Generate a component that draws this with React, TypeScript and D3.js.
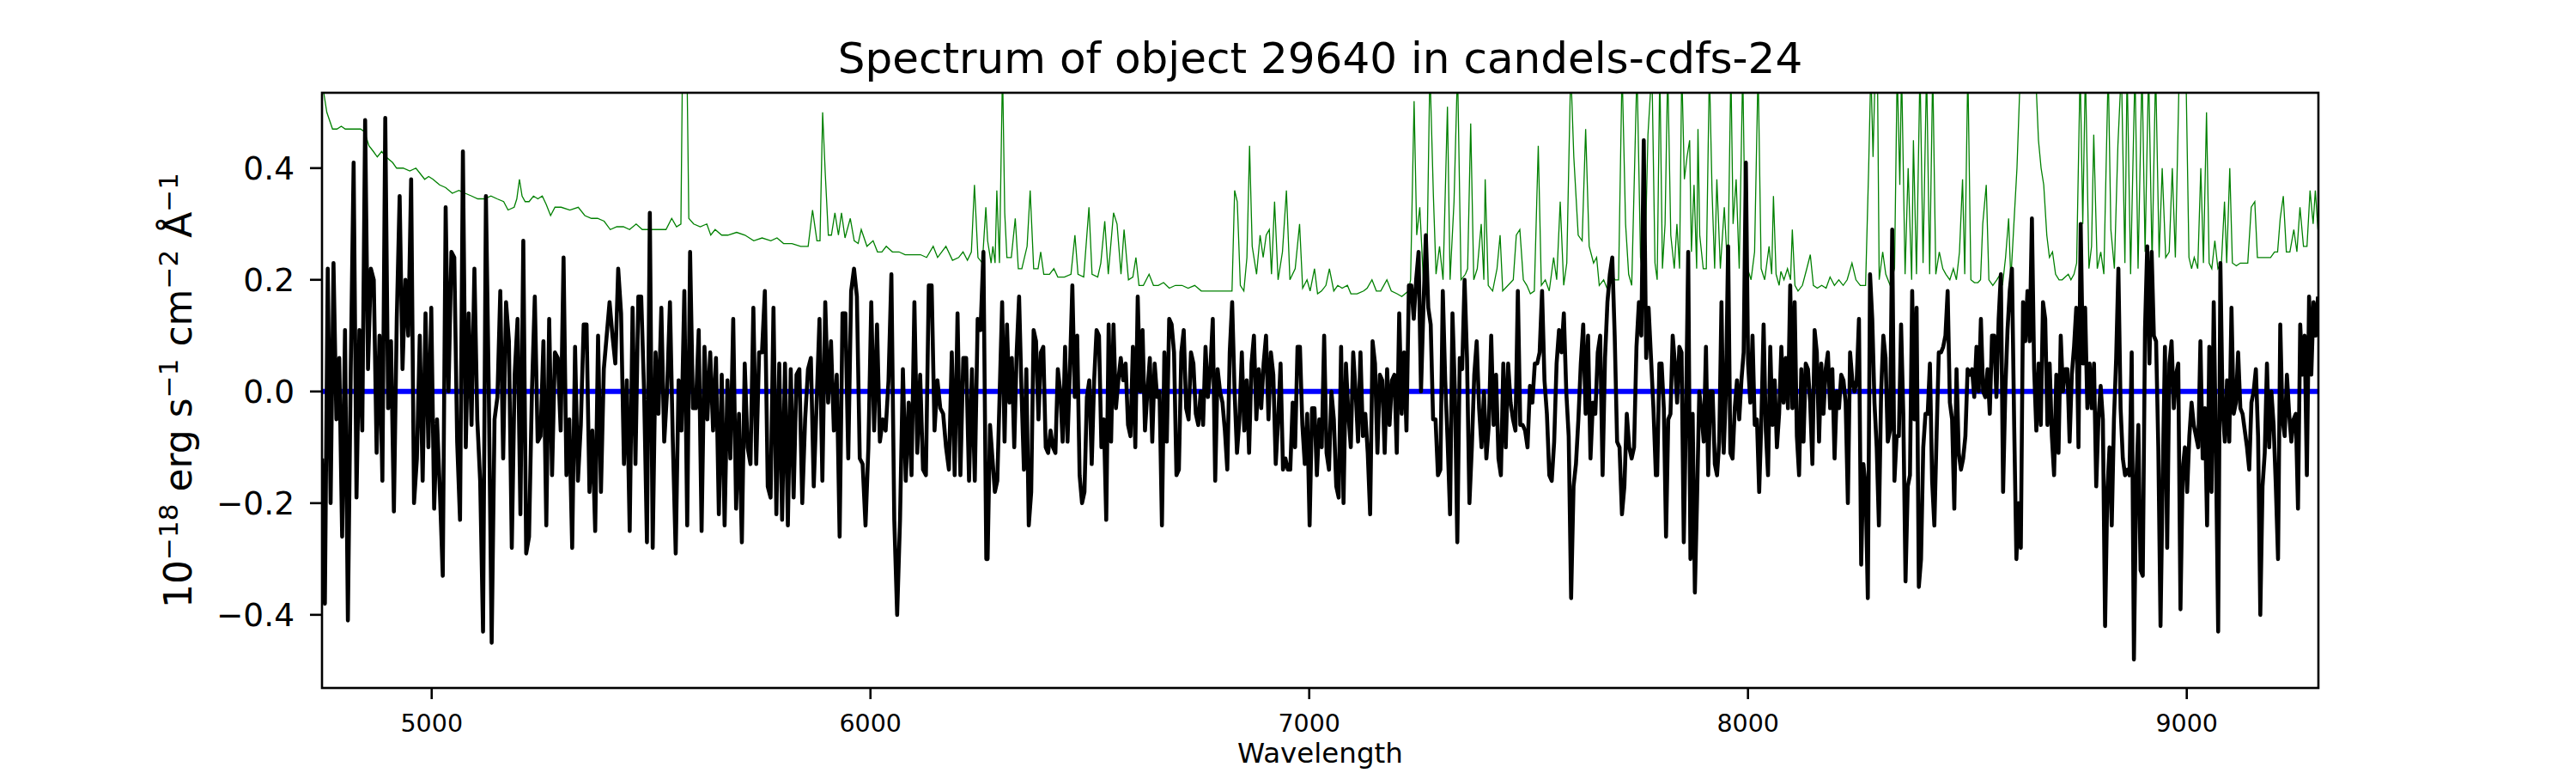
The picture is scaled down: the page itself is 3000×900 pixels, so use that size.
import React from "react"
import * as d3 from "d3"

const TITLE = "Spectrum of object 29640 in candels-cdfs-24"
const X_LABEL = "Wavelength"
const X_TICKS = [5000, 6000, 7000, 8000, 9000]
const Y_TICKS = [-0.4, -0.2, 0.0, 0.2, 0.4]
const X_DOMAIN: [number, number] = [4750, 9300]
const Y_DOMAIN: [number, number] = [-0.531, 0.535]

// observed flux, read in three stretches; samples are evenly spaced inside each stretch
const FLUX_A_RANGE = [4750, 6264]
const FLUX_A = [
  -0.12, -0.38, 0.22, -0.2, 0.23, -0.05, 0.06, -0.26, 0.11, -0.41, 0.04, 0.41, -0.19, 0.11, -0.07, 0.486,
  0.04, 0.22, 0.2, -0.11, 0.1, -0.16, 0.49, -0.03, 0.09, -0.215, 0.13, 0.35, 0.04, 0.2, 0.1, 0.38, -0.2,
  -0.12, 0.1, -0.16, 0.14, -0.1, 0.15, -0.21, -0.05, -0.18, -0.33, 0.33, 0.0, 0.25, 0.24, -0.09, -0.23,
  0.43, -0.1, 0.14, -0.06, 0.22, -0.05, -0.16, -0.43, 0.35, 0.0, -0.45, -0.05, -0.01, 0.18, -0.12, 0.16,
  0.09, -0.28, 0.03, 0.13, -0.22, 0.27, -0.29, -0.26, 0.0, 0.17, -0.09, -0.08, 0.09, -0.24, 0.13, -0.15,
  0.07, 0.06, -0.07, 0.24, -0.15, -0.05, -0.28, 0.08, -0.16, -0.06, 0.12, 0.12, -0.18, -0.07, -0.25, 0.1,
  -0.18, 0.04, 0.1, 0.16, 0.1, 0.05, 0.22, 0.14, -0.13, 0.02, -0.25, 0.15, -0.13, 0.17, 0.17, 0.0, -0.27,
  0.32, -0.28, 0.07, -0.04, 0.15, -0.09, 0.0, 0.16, -0.09, -0.29, 0.02, -0.07, 0.18, -0.24, 0.25, -0.03,
  -0.03, 0.11, -0.25, 0.08, -0.05, 0.07, -0.07, 0.06, -0.22, 0.03, -0.24, 0.02, -0.12, 0.13, -0.21, -0.04,
  -0.27, 0.05, -0.1, -0.13, 0.15, -0.13, 0.07, 0.07, 0.18, -0.17, -0.19, 0.15, -0.22, 0.05, -0.23, 0.05,
  -0.24, 0.04, -0.19, 0.03, 0.04, -0.2, -0.05, 0.04, 0.06, -0.17, -0.02, 0.13, -0.16, 0.16, -0.02, 0.09,
  -0.07, 0.03, -0.26, 0.14, 0.14, -0.12, 0.18, 0.22, 0.17, -0.12, -0.13, -0.24, -0.1, 0.16, -0.07, 0.12,
  -0.09, -0.05, -0.07, 0.02, 0.21, -0.23, -0.4, -0.23, 0.04, -0.16, -0.02, -0.15, 0.16, -0.11, 0.03, -0.14,
  -0.15, 0.19, 0.19, -0.07, 0.02, -0.03, -0.04, -0.1, -0.14, 0.07, -0.15, 0.14, -0.15, 0.06, 0.06, -0.16,
  0.04, -0.16, 0.13, 0.11, 0.25, -0.3,
]

const FLUX_B_RANGE = [6267, 7790]
const FLUX_B = [
  -0.3, -0.06, -0.12, -0.18, -0.16, 0.0, 0.16, -0.09, 0.12, -0.02, 0.06, -0.1, 0.07, 0.17, 0.0, -0.14,
  0.04, -0.24, -0.18, 0.11, 0.09, -0.05, 0.07, 0.08, -0.1, -0.11, -0.07, -0.1, -0.11, 0.04, 0.0, -0.09,
  0.08, -0.09, 0.04, 0.19, -0.01, 0.1, -0.15, -0.2, -0.18, -0.01, 0.02, -0.13, 0.02, 0.11, 0.1, -0.1,
  -0.05, -0.23, 0.12, -0.09, 0.12, -0.03, 0.02, 0.06, 0.02, 0.05, -0.06, -0.08, 0.08, -0.1, 0.17, 0.0,
  0.11, -0.07, 0.0, 0.06, -0.09, 0.05, -0.01, 0.0, -0.24, 0.07, -0.09, 0.13, 0.12, 0.07, -0.15, -0.14,
  0.07, 0.11, -0.03, -0.05, 0.07, 0.05, -0.04, -0.06, 0.0, -0.06, 0.08, -0.01, 0.04, 0.13, -0.16, 0.04,
  0.0, -0.02, -0.07, -0.14, 0.07, 0.16, 0.0, -0.11, -0.05, 0.07, -0.07, 0.02, -0.11, 0.05, 0.1, -0.05,
  0.04, -0.03, 0.05, 0.1, -0.05, 0.07, 0.03, -0.13, -0.05, 0.05, -0.14, -0.12, -0.14, -0.14, -0.02, -0.1,
  0.08, 0.08, -0.06, -0.13, -0.04, -0.24, -0.03, -0.03, -0.15, -0.05, -0.1, 0.1, -0.11, -0.14, 0.0, -0.05,
  -0.17, -0.19, 0.08, -0.2, 0.05, -0.04, -0.1, 0.07, 0.0, -0.09, 0.07, -0.08, -0.04, -0.11, -0.22, 0.09,
  0.05, -0.11, 0.03, 0.02, -0.11, 0.04, -0.06, 0.02, 0.03, -0.11, 0.14, -0.04, 0.07, -0.07, 0.19, 0.19,
  0.13, 0.2, 0.25, 0.0, 0.15, 0.28, 0.15, 0.12, -0.05, -0.05, -0.15, -0.14, 0.18, 0.02, -0.09, -0.22,
  0.14, 0.0, -0.27, 0.06, 0.04, 0.2, 0.06, -0.2, -0.1, 0.03, 0.09, -0.03, -0.1, 0.0, -0.12, -0.06, 0.1,
  -0.06, 0.03, -0.12, -0.15, 0.05, -0.1, 0.05, -0.02, -0.05, -0.07, 0.18, -0.06, -0.06, -0.07, -0.1, 0.01,
  -0.02, 0.05, 0.05, 0.07, 0.18, 0.02, -0.04, -0.15, -0.16, -0.09, 0.05, 0.11, 0.07, 0.14, 0.0, -0.08,
  -0.37, -0.17, -0.13, -0.05, 0.05, 0.12, -0.04, 0.1, -0.12, -0.02, -0.04, 0.07, 0.1, -0.15, 0.06, 0.16,
  0.21, 0.24, 0.1, -0.09, -0.1, -0.22, -0.17, -0.04, -0.1, -0.12, -0.1, 0.08, 0.16, 0.1, 0.45, 0.06, 0.15,
  0.06, -0.03, -0.15,
]

const FLUX_C_RANGE = [7793, 9299]
const FLUX_C = [
  -0.15, 0.05, 0.05, -0.03, -0.26, -0.05, -0.04, 0.1, 0.05, -0.02, 0.08, 0.07, -0.27, -0.04, 0.25, -0.3,
  -0.04, -0.36, -0.19, 0.0, -0.04, -0.09, 0.08, -0.15, 0.0, 0.0, -0.13, -0.15, -0.09, 0.16, -0.11, 0.0,
  0.26, -0.11, -0.12, -0.03, 0.02, -0.05, 0.02, 0.07, 0.41, 0.05, -0.02, 0.1, -0.06, -0.05, -0.18, -0.05,
  0.12, -0.07, -0.15, 0.08, -0.06, 0.02, -0.1, -0.04, 0.08, -0.02, 0.06, -0.03, 0.19, -0.03, 0.16, -0.08,
  -0.15, 0.04, -0.09, 0.05, 0.04, -0.02, -0.13, 0.11, 0.07, -0.09, 0.05, -0.04, 0.04, 0.07, -0.03, 0.04,
  -0.12, 0.0, -0.03, 0.03, 0.02, -0.02, -0.2, 0.07, 0.02, 0.0, 0.02, 0.13, -0.31, -0.13, -0.17, -0.37,
  0.21, 0.13, -0.02, -0.1, -0.24, 0.0, 0.1, 0.06, -0.09, -0.07, 0.29, -0.16, -0.08, -0.08, 0.12, -0.04,
  -0.34, -0.17, -0.15, 0.18, -0.05, 0.15, -0.35, -0.3, -0.1, -0.04, -0.04, 0.05, -0.16, -0.24, -0.08, 0.07,
  0.07, 0.08, 0.1, 0.18, -0.02, -0.05, -0.21, 0.04, -0.11, -0.14, -0.12, -0.08, 0.04, 0.03, 0.04, -0.01,
  0.08, 0.0, 0.13, 0.0, -0.01, 0.04, -0.04, 0.1, 0.1, -0.01, 0.13, 0.21, -0.18, 0.0, 0.11, 0.18, 0.22,
  -0.06, -0.3, -0.2, -0.28, 0.16, 0.09, 0.18, 0.09, 0.31, 0.04, -0.07, 0.05, -0.06, 0.16, 0.13, -0.06,
  0.05, -0.08, -0.15, 0.03, -0.11, 0.1, 0.0, 0.04, 0.04, -0.09, 0.03, 0.08, 0.15, -0.1, 0.3, 0.05, 0.15,
  -0.03, 0.05, -0.03, 0.05, -0.17, -0.05, 0.01, -0.05, -0.42, -0.18, -0.1, -0.24, -0.05, 0.06, 0.22,
  -0.03, -0.12, -0.15, -0.14, -0.15, 0.07, -0.48, -0.17, -0.06, -0.32, -0.33, 0.11, 0.26, 0.05, 0.25, 0.1,
  0.09, -0.1, -0.42, -0.15, 0.08, -0.28, 0.05, 0.09, -0.03, 0.03, 0.05, -0.39, -0.14, -0.1, -0.18, -0.08,
  -0.02, -0.06, -0.08, -0.1, 0.09, -0.12, -0.03, -0.24, 0.08, -0.18, 0.16, -0.11, -0.43, 0.23, -0.03,
  -0.09, 0.02, -0.09, 0.15, -0.04, -0.02, 0.07, -0.03, -0.04, -0.07, -0.1, -0.14, -0.02, 0.0, 0.04, -0.08,
  -0.4, -0.17, -0.11, 0.05, -0.1, 0.0, -0.06, -0.17, -0.3, 0.12, -0.05, -0.08, 0.03, -0.04, -0.09, -0.05,
  -0.04, -0.21, 0.12, 0.03, 0.1, -0.15, 0.17, 0.03, 0.16, 0.1, 0.17,
]

// noise spectrum as [wavelength, value]; sky-line peaks run off the top of the axes
const NOISE_A = [
  [4750, 0.56], [4755, 0.53], [4761, 0.5], [4774, 0.47], [4784, 0.47], [4794, 0.475], [4803, 0.47],
  [4818, 0.47], [4838, 0.47], [4847, 0.465], [4857, 0.44], [4867, 0.43], [4876, 0.42], [4886, 0.43],
  [4896, 0.42], [4911, 0.41], [4920, 0.4], [4935, 0.4], [4950, 0.395], [4964, 0.4], [4974, 0.39],
  [4984, 0.38], [4993, 0.385], [5003, 0.38], [5018, 0.37], [5032, 0.365], [5047, 0.355], [5062, 0.36],
  [5076, 0.355], [5091, 0.35], [5105, 0.345], [5120, 0.345], [5135, 0.35], [5149, 0.345], [5164, 0.34],
  [5174, 0.325], [5188, 0.33], [5194, 0.345], [5200, 0.38], [5206, 0.35], [5213, 0.34], [5222, 0.34],
  [5232, 0.35], [5242, 0.345], [5252, 0.35], [5261, 0.335], [5271, 0.315], [5281, 0.33], [5295, 0.33],
  [5315, 0.325], [5334, 0.33], [5349, 0.315], [5364, 0.31], [5378, 0.31], [5393, 0.305], [5407, 0.29],
  [5422, 0.295], [5437, 0.295], [5451, 0.29], [5466, 0.3], [5480, 0.29], [5500, 0.29], [5519, 0.29],
  [5534, 0.29], [5547, 0.31], [5558, 0.295], [5568, 0.3], [5573, 0.7], [5580, 0.7], [5586, 0.31],
  [5597, 0.3], [5612, 0.295], [5627, 0.3], [5636, 0.28], [5646, 0.29], [5661, 0.28], [5675, 0.28],
  [5695, 0.285], [5714, 0.28], [5734, 0.27], [5753, 0.275], [5773, 0.27], [5787, 0.275], [5802, 0.265],
  [5821, 0.265], [5841, 0.26], [5858, 0.26], [5868, 0.325], [5878, 0.27], [5885, 0.27], [5891, 0.5],
  [5897, 0.39], [5904, 0.28], [5911, 0.28], [5919, 0.32], [5927, 0.28], [5934, 0.32], [5942, 0.275],
  [5954, 0.31], [5963, 0.27], [5972, 0.265], [5979, 0.29], [5992, 0.26], [6006, 0.27], [6016, 0.25],
  [6026, 0.25], [6036, 0.26], [6050, 0.25], [6065, 0.25], [6079, 0.245], [6094, 0.245], [6114, 0.245],
  [6128, 0.24], [6143, 0.26], [6153, 0.24], [6172, 0.26], [6187, 0.235], [6201, 0.24], [6211, 0.25],
  [6221, 0.235], [6230, 0.25], [6237, 0.37], [6245, 0.24], [6255, 0.23], [6263, 0.33],
]

const NOISE_B = [
  [6267, 0.27], [6275, 0.23], [6279, 0.26], [6284, 0.23], [6288, 0.36], [6294, 0.23], [6301, 0.58],
  [6306, 0.32], [6311, 0.24], [6321, 0.24], [6330, 0.31], [6337, 0.22], [6345, 0.22], [6357, 0.26],
  [6364, 0.36], [6372, 0.22], [6382, 0.22], [6388, 0.25], [6395, 0.21], [6408, 0.21], [6418, 0.22],
  [6427, 0.205], [6442, 0.205], [6457, 0.21], [6466, 0.28], [6473, 0.21], [6486, 0.205], [6498, 0.33],
  [6505, 0.21], [6518, 0.205], [6525, 0.23], [6534, 0.305], [6542, 0.21], [6554, 0.32], [6562, 0.3],
  [6571, 0.21], [6578, 0.29], [6588, 0.2], [6598, 0.205], [6605, 0.24], [6612, 0.19], [6622, 0.19],
  [6635, 0.21], [6645, 0.19], [6656, 0.19], [6668, 0.195], [6681, 0.185], [6695, 0.19], [6710, 0.19],
  [6724, 0.185], [6739, 0.19], [6754, 0.18], [6773, 0.18], [6793, 0.18], [6812, 0.18], [6824, 0.18],
  [6830, 0.36], [6836, 0.34], [6843, 0.19], [6851, 0.18], [6858, 0.24], [6864, 0.44], [6870, 0.26],
  [6880, 0.21], [6888, 0.28], [6895, 0.24], [6902, 0.28], [6909, 0.29], [6914, 0.21], [6921, 0.34],
  [6929, 0.2], [6939, 0.25], [6948, 0.36], [6956, 0.2], [6968, 0.22], [6978, 0.3], [6985, 0.185],
  [6995, 0.2], [7002, 0.18], [7012, 0.22], [7019, 0.175], [7028, 0.18], [7038, 0.19], [7046, 0.22],
  [7056, 0.18], [7065, 0.19], [7075, 0.185], [7087, 0.19], [7095, 0.175], [7109, 0.175], [7124, 0.18],
  [7132, 0.185], [7143, 0.2], [7153, 0.18], [7163, 0.18], [7177, 0.2], [7187, 0.18], [7200, 0.175],
  [7211, 0.17], [7226, 0.18], [7231, 0.2], [7239, 0.52], [7245, 0.28], [7252, 0.33], [7260, 0.2],
  [7268, 0.22], [7275, 0.58], [7283, 0.35], [7289, 0.21], [7297, 0.26], [7305, 0.2], [7315, 0.51],
  [7321, 0.2], [7330, 0.34], [7338, 0.58], [7346, 0.2], [7356, 0.21], [7361, 0.22], [7368, 0.48],
  [7375, 0.2], [7383, 0.22], [7392, 0.3], [7398, 0.2], [7401, 0.38], [7408, 0.19], [7418, 0.18],
  [7428, 0.22], [7435, 0.28], [7441, 0.18], [7453, 0.19], [7465, 0.2], [7472, 0.28], [7480, 0.29],
  [7488, 0.2], [7496, 0.19], [7504, 0.175], [7513, 0.18], [7522, 0.44], [7529, 0.19], [7538, 0.2],
  [7547, 0.18], [7557, 0.24], [7564, 0.2], [7572, 0.34], [7580, 0.19], [7587, 0.23], [7596, 0.58],
  [7603, 0.42], [7613, 0.28], [7622, 0.27], [7630, 0.47], [7638, 0.26], [7648, 0.23], [7655, 0.24],
  [7661, 0.19], [7671, 0.2], [7681, 0.18], [7689, 0.21], [7697, 0.2], [7705, 0.2], [7713, 0.58],
  [7721, 0.3], [7728, 0.21], [7735, 0.19], [7747, 0.58], [7755, 0.24], [7764, 0.19], [7772, 0.46],
  [7781, 0.58], [7788, 0.23],
]

const NOISE_C = [
  [7793, 0.2], [7799, 0.58], [7805, 0.22], [7811, 0.3], [7817, 0.58], [7824, 0.28], [7832, 0.22],
  [7838, 0.3], [7844, 0.22], [7849, 0.58], [7855, 0.38], [7861, 0.42], [7867, 0.45], [7871, 0.25],
  [7877, 0.37], [7883, 0.22], [7886, 0.47], [7890, 0.28], [7898, 0.22], [7905, 0.22], [7912, 0.58],
  [7918, 0.36], [7924, 0.22], [7929, 0.38], [7937, 0.22], [7946, 0.33], [7954, 0.21], [7961, 0.58],
  [7966, 0.3], [7973, 0.38], [7980, 0.22], [7988, 0.58], [7994, 0.25], [7999, 0.22], [8007, 0.2],
  [8015, 0.25], [8023, 0.58], [8030, 0.22], [8038, 0.2], [8048, 0.26], [8054, 0.21], [8058, 0.35],
  [8064, 0.21], [8071, 0.19], [8075, 0.215], [8082, 0.2], [8090, 0.22], [8097, 0.2], [8101, 0.29],
  [8107, 0.19], [8114, 0.18], [8124, 0.19], [8134, 0.22], [8142, 0.245], [8149, 0.19], [8158, 0.185],
  [8168, 0.19], [8178, 0.185], [8187, 0.205], [8197, 0.19], [8207, 0.2], [8217, 0.19], [8226, 0.2],
  [8237, 0.23], [8246, 0.2], [8256, 0.19], [8268, 0.19], [8275, 0.4], [8280, 0.58], [8285, 0.42],
  [8290, 0.58], [8295, 0.58], [8299, 0.2], [8307, 0.25], [8314, 0.21], [8324, 0.19], [8334, 0.22],
  [8340, 0.58], [8346, 0.37], [8350, 0.58], [8358, 0.21], [8365, 0.4], [8373, 0.2], [8377, 0.45],
  [8384, 0.21], [8392, 0.58], [8399, 0.23], [8407, 0.58], [8414, 0.21], [8421, 0.58], [8428, 0.21],
  [8436, 0.25], [8444, 0.22], [8451, 0.21], [8460, 0.2], [8468, 0.22], [8475, 0.2], [8482, 0.25],
  [8489, 0.38], [8494, 0.21], [8501, 0.58], [8508, 0.2], [8516, 0.195], [8524, 0.195], [8530, 0.2],
  [8535, 0.3], [8543, 0.37], [8549, 0.2], [8558, 0.19], [8567, 0.2], [8575, 0.21], [8580, 0.19],
  [8587, 0.24], [8594, 0.31], [8599, 0.2], [8606, 0.3], [8613, 0.4], [8621, 0.58], [8629, 0.58],
  [8635, 0.58], [8642, 0.58], [8648, 0.58], [8655, 0.58], [8662, 0.45], [8668, 0.4], [8674, 0.37],
  [8681, 0.28], [8687, 0.24], [8694, 0.25], [8701, 0.21], [8709, 0.2], [8716, 0.2], [8723, 0.205],
  [8730, 0.21], [8736, 0.2], [8743, 0.21], [8749, 0.23], [8757, 0.58], [8763, 0.3], [8769, 0.58],
  [8777, 0.22], [8783, 0.26], [8788, 0.46], [8796, 0.22], [8804, 0.25], [8811, 0.21], [8821, 0.58],
  [8827, 0.29], [8835, 0.22], [8843, 0.44], [8851, 0.58], [8859, 0.23], [8864, 0.58], [8872, 0.21],
  [8882, 0.58], [8889, 0.22], [8898, 0.58], [8905, 0.25], [8913, 0.58], [8921, 0.23], [8929, 0.58],
  [8937, 0.24], [8944, 0.4], [8952, 0.24], [8960, 0.25], [8967, 0.4], [8974, 0.24], [8983, 0.58],
  [8991, 0.58], [8998, 0.58], [9005, 0.24], [9011, 0.22], [9017, 0.24], [9025, 0.22], [9032, 0.4],
  [9038, 0.23], [9045, 0.5], [9051, 0.23], [9057, 0.22], [9064, 0.27], [9071, 0.22], [9079, 0.23],
  [9086, 0.34], [9091, 0.23], [9098, 0.4], [9104, 0.23], [9113, 0.225], [9122, 0.23], [9132, 0.23],
  [9139, 0.23], [9147, 0.33], [9155, 0.34], [9161, 0.24], [9171, 0.24], [9181, 0.24], [9191, 0.24],
  [9200, 0.25], [9207, 0.25], [9213, 0.31], [9220, 0.35], [9227, 0.25], [9235, 0.25], [9244, 0.29],
  [9251, 0.25], [9258, 0.33], [9266, 0.26], [9274, 0.26], [9281, 0.36], [9288, 0.3], [9293, 0.36],
  [9299, 0.29],
]

// model continuum (flat at zero)
const MODEL = [
  [4750, 0],
  [9300, 0],
]

const spread = (range: number[], values: number[]) =>
  values.map((v, i) => [range[0] + ((range[1] - range[0]) * i) / (values.length - 1), v])

const App = () => {
  const width = 3000
  const height = 900
  const margin = { top: 108, right: 300, bottom: 99, left: 375 }
  const innerW = width - margin.left - margin.right
  const innerH = height - margin.top - margin.bottom
  const font = "'DejaVu Sans', sans-serif"

  const x = d3.scaleLinear().domain(X_DOMAIN).range([0, innerW])
  const y = d3.scaleLinear().domain(Y_DOMAIN).range([innerH, 0])

  const line = d3
    .line<number[]>()
    .x((d) => x(d[0]))
    .y((d) => y(d[1]))

  const flux = [
    ...spread(FLUX_A_RANGE, FLUX_A),
    ...spread(FLUX_B_RANGE, FLUX_B),
    ...spread(FLUX_C_RANGE, FLUX_C),
  ]
  const noise = [...NOISE_A, ...NOISE_B, ...NOISE_C]

  const fmt = (v: number) => d3.format(".1f")(v).replace("-", "\u2212")
  const sup = { fontSize: 31 }

  return (
    <svg
      width={width}
      height={height}
      style={{ position: "absolute", left: 0, top: 0, background: "white" }}
      fontFamily={font}
    >
      <defs>
        <clipPath id="plot-area">
          <rect x={0} y={0} width={innerW} height={innerH} />
        </clipPath>
      </defs>

      <text x={margin.left + innerW / 2} y={85} textAnchor="middle" fontSize={50}>
        {TITLE}
      </text>

      <g transform={`translate(${margin.left},${margin.top})`}>
        <g clipPath="url(#plot-area)">
          <path d={line(noise) ?? ""} fill="none" stroke="#008000" strokeWidth={1.3} />
          <path d={line(MODEL) ?? ""} fill="none" stroke="#0000ff" strokeWidth={6} />
          <path
            d={line(flux) ?? ""}
            fill="none"
            stroke="#000"
            strokeWidth={4.6}
            strokeLinejoin="round"
          />
        </g>

        {Y_TICKS.map((t) => (
          <g key={t} transform={`translate(0,${y(t)})`}>
            <line x1={-14} x2={0} stroke="#000" strokeWidth={2.6} />
            <text x={-32} y={13.5} textAnchor="end" fontSize={37.5}>
              {fmt(t)}
            </text>
          </g>
        ))}

        {X_TICKS.map((t) => (
          <g key={t} transform={`translate(${x(t)},${innerH})`}>
            <line y1={0} y2={13} stroke="#000" strokeWidth={2.6} />
            <text y={51} textAnchor="middle" fontSize={28.5}>
              {t}
            </text>
          </g>
        ))}

        <rect
          x={0}
          y={0}
          width={innerW}
          height={innerH}
          fill="none"
          stroke="#000"
          strokeWidth={2.6}
        />

        <text x={innerW / 2} y={innerH + 87} textAnchor="middle" fontSize={32.5}>
          {X_LABEL}
        </text>
      </g>

      <text
        transform={`translate(223,${margin.top + innerH / 2}) rotate(-90)`}
        textAnchor="middle"
        fontSize={44}
        style={{ whiteSpace: "pre" }}
      >
        <tspan>10</tspan>
        <tspan dy={-16} style={sup}>
          {"\u221218"}
        </tspan>
        <tspan dy={16}>{" erg s"}</tspan>
        <tspan dy={-16} style={sup}>
          {"\u22121"}
        </tspan>
        <tspan dy={16}>{" cm"}</tspan>
        <tspan dy={-16} style={sup}>
          {"\u22122"}
        </tspan>
        <tspan dy={16}>{" \u00c5"}</tspan>
        <tspan dy={-16} style={sup}>
          {"\u22121"}
        </tspan>
      </text>
    </svg>
  )
}

export default App
